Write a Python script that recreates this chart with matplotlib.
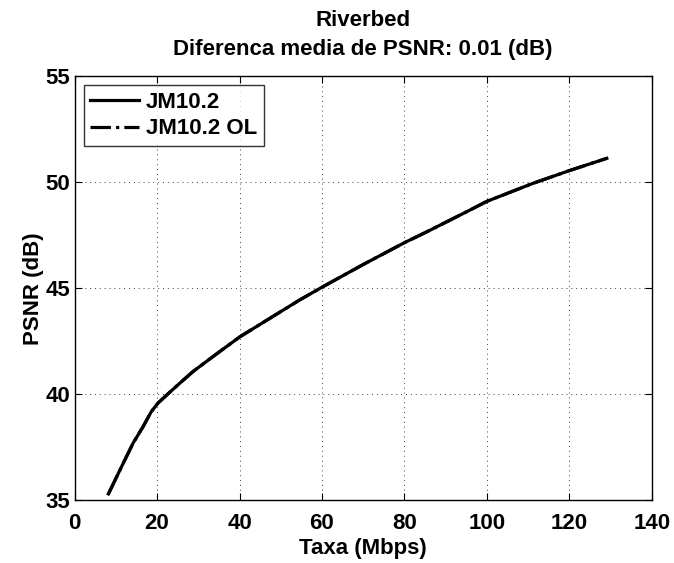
#!/usr/bin/env python
# rate-distortion curve, Riverbed sequence
import matplotlib
matplotlib.use("Agg")
import matplotlib.pyplot as plt

# values
taxa = [8.2, 11.8, 14.2, 16.6, 18.6, 20.2, 23.1, 25.5, 28.7, 33.5, 40.0, 50.0,
        54.6, 60.0, 69.8, 80.0, 85.5, 95.6, 100.0, 110.9, 120.0, 129.1]
psnr_jm = [35.3, 36.75, 37.7, 38.47, 39.18, 39.58, 40.1, 40.52, 41.07, 41.77, 42.7, 43.9,
           44.45, 45.05, 46.1, 47.15, 47.67, 48.66, 49.1, 49.93, 50.55, 51.13]
psnr_ol = [35.3, 36.75, 37.7, 38.47, 39.18, 39.58, 40.1, 40.52, 41.07, 41.77, 42.7, 43.9,
           44.45, 45.05, 46.1, 47.15, 47.67, 48.66, 49.1, 49.93, 50.55, 51.13]

xticks = [0, 20, 40, 60, 80, 100, 120, 140]
yticks = [35, 40, 45, 50, 55]

plt.rcParams['font.family'] = ['Liberation Sans', 'DejaVu Sans']
plt.rcParams['font.weight'] = 'bold'
fs = 16

fig = plt.figure(figsize=(6.74, 5.63), dpi=100)
ax = fig.add_axes([0.1107, 0.1114, 0.967 - 0.1107, 0.8645 - 0.1114])

ax.plot(taxa, psnr_jm, color='black', linewidth=2.3, linestyle='-', label='JM10.2')
ax.plot(taxa, psnr_ol, color='black', linewidth=2.3, linestyle='-.', label='JM10.2 OL')

ax.set_xlim(0, 140)
ax.set_ylim(35, 55)
ax.set_xticks(xticks)
ax.set_yticks(yticks)
ax.tick_params(direction='in', top=True, right=True, length=5, width=0.8,
               labelsize=fs)
ax.tick_params(axis='x', pad=9)
ax.tick_params(axis='y', pad=3)
for lbl in ax.get_xticklabels() + ax.get_yticklabels():
    lbl.set_fontweight('bold')
ax.grid(True, color='#404040', linestyle=(0, (1, 4)), linewidth=0.7)
for s in ax.spines.values():
    s.set_linewidth(1.0)

ax.set_xlabel('Taxa (Mbps)', fontsize=fs, fontweight='bold', labelpad=3)
ax.set_ylabel('PSNR (dB)', fontsize=fs, fontweight='bold', labelpad=1)
ax.set_title('Riverbed\nDiferenca media de PSNR: 0.01 (dB)', fontsize=fs,
             fontweight='bold', pad=15, linespacing=1.5)

leg = ax.legend(loc='upper left', fontsize=fs, frameon=True, fancybox=False,
                edgecolor='black', borderaxespad=0.4, handlelength=2.2,
                handletextpad=0.3, labelspacing=0.25, borderpad=0.3)
leg.get_frame().set_linewidth(1.0)
for t in leg.get_texts():
    t.set_fontweight('bold')

fig.savefig('out.png', dpi=100)
